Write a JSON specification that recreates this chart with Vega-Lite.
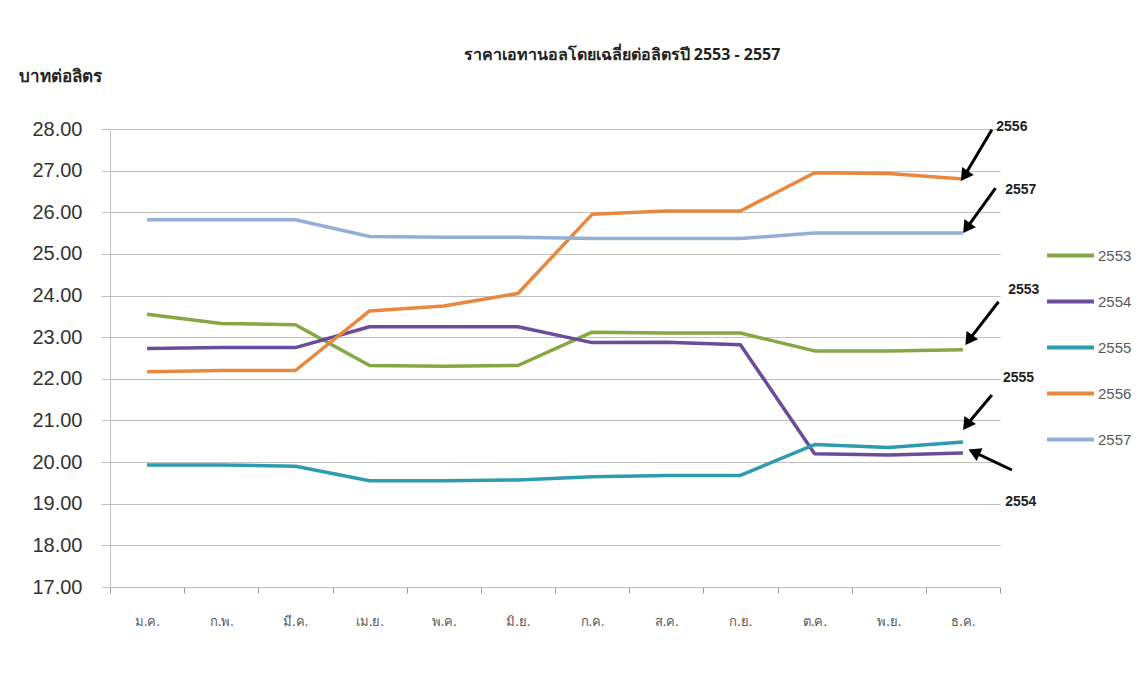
{
  "$schema": "https://vega.github.io/schema/vega-lite/v6.json",
  "width": 890,
  "height": 458,
  "autosize": "none",
  "padding": {"left": 110, "top": 129, "right": 147, "bottom": 88},
  "background": "white",
  "config": {"view": {"stroke": null}, "font": "Liberation Sans"},
  "title": {
    "text": "ราคาเอทานอลโดยเฉลี่ยต่อลิตรปี 2553 - 2557",
    "anchor": "middle",
    "dx": 67,
    "offset": 4,
    "fontSize": 16,
    "fontWeight": "bold",
    "color": "#222222",
    "font": "Noto Sans"
  },
  "datasets": {
    "prices": [
      {"month": 1, "year": "2553", "price": 23.55},
      {"month": 2, "year": "2553", "price": 23.33},
      {"month": 3, "year": "2553", "price": 23.30},
      {"month": 4, "year": "2553", "price": 22.32},
      {"month": 5, "year": "2553", "price": 22.30},
      {"month": 6, "year": "2553", "price": 22.32},
      {"month": 7, "year": "2553", "price": 23.12},
      {"month": 8, "year": "2553", "price": 23.10},
      {"month": 9, "year": "2553", "price": 23.10},
      {"month": 10, "year": "2553", "price": 22.67},
      {"month": 11, "year": "2553", "price": 22.67},
      {"month": 12, "year": "2553", "price": 22.70},
      {"month": 1, "year": "2554", "price": 22.73},
      {"month": 2, "year": "2554", "price": 22.75},
      {"month": 3, "year": "2554", "price": 22.75},
      {"month": 4, "year": "2554", "price": 23.25},
      {"month": 5, "year": "2554", "price": 23.25},
      {"month": 6, "year": "2554", "price": 23.25},
      {"month": 7, "year": "2554", "price": 22.87},
      {"month": 8, "year": "2554", "price": 22.88},
      {"month": 9, "year": "2554", "price": 22.82},
      {"month": 10, "year": "2554", "price": 20.20},
      {"month": 11, "year": "2554", "price": 20.17},
      {"month": 12, "year": "2554", "price": 20.22},
      {"month": 1, "year": "2555", "price": 19.93},
      {"month": 2, "year": "2555", "price": 19.93},
      {"month": 3, "year": "2555", "price": 19.90},
      {"month": 4, "year": "2555", "price": 19.55},
      {"month": 5, "year": "2555", "price": 19.55},
      {"month": 6, "year": "2555", "price": 19.57},
      {"month": 7, "year": "2555", "price": 19.65},
      {"month": 8, "year": "2555", "price": 19.68},
      {"month": 9, "year": "2555", "price": 19.68},
      {"month": 10, "year": "2555", "price": 20.42},
      {"month": 11, "year": "2555", "price": 20.35},
      {"month": 12, "year": "2555", "price": 20.48},
      {"month": 1, "year": "2556", "price": 22.17},
      {"month": 2, "year": "2556", "price": 22.20},
      {"month": 3, "year": "2556", "price": 22.20},
      {"month": 4, "year": "2556", "price": 23.63},
      {"month": 5, "year": "2556", "price": 23.75},
      {"month": 6, "year": "2556", "price": 24.05},
      {"month": 7, "year": "2556", "price": 25.95},
      {"month": 8, "year": "2556", "price": 26.03},
      {"month": 9, "year": "2556", "price": 26.03},
      {"month": 10, "year": "2556", "price": 26.95},
      {"month": 11, "year": "2556", "price": 26.93},
      {"month": 12, "year": "2556", "price": 26.80},
      {"month": 1, "year": "2557", "price": 25.82},
      {"month": 2, "year": "2557", "price": 25.82},
      {"month": 3, "year": "2557", "price": 25.82},
      {"month": 4, "year": "2557", "price": 25.42},
      {"month": 5, "year": "2557", "price": 25.40},
      {"month": 6, "year": "2557", "price": 25.40},
      {"month": 7, "year": "2557", "price": 25.37},
      {"month": 8, "year": "2557", "price": 25.37},
      {"month": 9, "year": "2557", "price": 25.37},
      {"month": 10, "year": "2557", "price": 25.50},
      {"month": 11, "year": "2557", "price": 25.50},
      {"month": 12, "year": "2557", "price": 25.50}
    ],
    "notes": [
      {"label": "2556", "tx": 12.66, "ty": 28.05, "x1": 12.39, "y1": 27.98, "x2": 12.02, "y2": 26.87},
      {"label": "2557", "tx": 12.78, "ty": 26.53, "x1": 12.44, "y1": 26.58, "x2": 12.05, "y2": 25.62},
      {"label": "2553", "tx": 12.82, "ty": 24.13, "x1": 12.48, "y1": 23.85, "x2": 12.08, "y2": 22.93},
      {"label": "2555", "tx": 12.75, "ty": 22.02, "x1": 12.39, "y1": 21.61, "x2": 12.05, "y2": 20.89},
      {"label": "2554", "tx": 12.78, "ty": 19.04, "x1": 12.66, "y1": 19.81, "x2": 12.15, "y2": 20.24}
    ]
  },
  "layer": [
    {
      "data": {"name": "prices"},
      "mark": {"type": "line", "strokeWidth": 3.5, "strokeJoin": "round"},
      "encoding": {
        "x": {
          "field": "month",
          "type": "quantitative",
          "scale": {"domain": [0.5, 12.5], "nice": false, "zero": false},
          "axis": {
            "title": null,
            "values": [0.5, 1.5, 2.5, 3.5, 4.5, 5.5, 6.5, 7.5, 8.5, 9.5, 10.5, 11.5, 12.5],
            "labelExpr": "datum.value == 0.5 ? 'ม.ค.' : datum.value == 1.5 ? 'ก.พ.' : datum.value == 2.5 ? 'มี.ค.' : datum.value == 3.5 ? 'เม.ย.' : datum.value == 4.5 ? 'พ.ค.' : datum.value == 5.5 ? 'มิ.ย.' : datum.value == 6.5 ? 'ก.ค.' : datum.value == 7.5 ? 'ส.ค.' : datum.value == 8.5 ? 'ก.ย.' : datum.value == 9.5 ? 'ต.ค.' : datum.value == 10.5 ? 'พ.ย.' : datum.value == 11.5 ? 'ธ.ค.' : ''",
            "labelOffset": 37,
            "grid": false,
            "domainColor": "#bfbfbf",
            "tickColor": "#9a9a9a",
            "tickSize": 6,
            "labelPadding": 22,
            "labelFontSize": 13,
            "labelColor": "#595959",
            "labelFont": "Noto Sans",
            "labelFlush": false,
            "labelOverlap": false,
            "labelBound": false
          }
        },
        "y": {
          "field": "price",
          "type": "quantitative",
          "scale": {"domain": [17, 28], "nice": false, "zero": false},
          "axis": {
            "title": "บาทต่อลิตร",
            "titleAngle": 0,
            "titleX": -92,
            "titleY": -53,
            "titleAlign": "left",
            "titleBaseline": "middle",
            "titleFont": "Noto Sans",
            "titleFontSize": 17,
            "titleFontWeight": "bold",
            "titleColor": "#222222",
            "values": [17, 18, 19, 20, 21, 22, 23, 24, 25, 26, 27, 28],
            "format": ".2f",
            "labelFontSize": 20,
            "labelColor": "#333333",
            "labelPadding": 19,
            "tickSize": 9,
            "tickColor": "#bfbfbf",
            "domainColor": "#bfbfbf",
            "gridColor": "#c0c0c0",
            "gridWidth": 1.2
          }
        },
        "color": {
          "field": "year",
          "type": "nominal",
          "scale": {
            "domain": ["2553", "2554", "2555", "2556", "2557"],
            "range": ["#86a843", "#6b4c9a", "#2e9cae", "#e8883e", "#93afd6"]
          },
          "legend": {
            "title": null,
            "orient": "none",
            "legendX": 935,
            "legendY": 101,
            "symbolType": "stroke",
            "symbolSize": 2200,
            "symbolStrokeWidth": 4,
            "rowPadding": 12,
            "labelFontSize": 15,
            "labelColor": "#595959",
            "labelOffset": 2
          }
        }
      }
    },
    {
      "data": {"name": "notes"},
      "mark": {"type": "rule", "color": "black", "strokeWidth": 3},
      "encoding": {
        "x": {"field": "x1", "type": "quantitative"},
        "y": {"field": "y1", "type": "quantitative"},
        "x2": {"field": "x2"},
        "y2": {"field": "y2"}
      }
    },
    {
      "data": {"name": "notes"},
      "mark": {"type": "point", "shape": "triangle-up", "filled": true, "color": "black", "size": 200, "opacity": 1},
      "encoding": {
        "x": {"field": "x2", "type": "quantitative"},
        "y": {"field": "y2", "type": "quantitative"},
        "angle": {"condition": {"test": "datum.label == '2554'", "value": 295}, "value": 215}
      }
    },
    {
      "data": {"name": "notes"},
      "mark": {"type": "text", "fontSize": 14, "fontWeight": "bold", "color": "#222222", "align": "center", "baseline": "middle"},
      "encoding": {
        "x": {"field": "tx", "type": "quantitative"},
        "y": {"field": "ty", "type": "quantitative"},
        "text": {"field": "label"}
      }
    }
  ]
}
